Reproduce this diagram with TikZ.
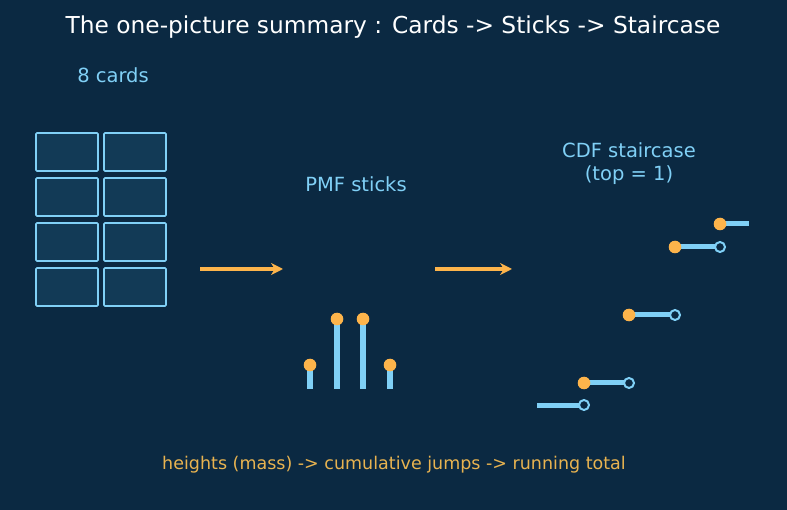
\documentclass[tikz,border=0pt]{standalone}
\usepackage{xcolor}
\usepackage{fontspec}
\setmainfont{DejaVu Sans}
\usepackage{tikz}
\usetikzlibrary{arrows.meta}
\usetikzlibrary{positioning}
\tikzset{>=stealth}

\definecolor{bgnavy}{HTML}{0B2942}
\definecolor{cardfill}{HTML}{123A56}
\definecolor{skyline}{HTML}{80D0F6}
\definecolor{jumporange}{HTML}{FDB44B}
\definecolor{notegold}{HTML}{E8B350}

\tikzset{
  card/.style={draw=skyline, fill=cardfill, line width=1.6pt, rounded corners=1pt,
    minimum width=62pt, minimum height=38pt, inner sep=0pt},
  lbl/.style={text=skyline, font=\fontsize{19.5}{23}\selectfont, align=center},
  flow/.style={-{Stealth[length=12pt,width=12pt]}, jumporange, line width=4.2pt},
  stick/.style={skyline, line width=6.5pt},
  tread/.style={skyline, line width=5pt},
  mass/.style={fill=jumporange},
  hole/.style={draw=skyline, fill=bgnavy, line width=2pt}
}

\begin{document}
\begin{tikzpicture}[x=1pt,y=-1pt]
        % Canvas
        \fill[bgnavy] (0,0) rectangle (787,510);
        \useasboundingbox (0,0) rectangle (787,510);

        % Titles and labels
        \node[text=white, font=\fontsize{23.3}{27}\selectfont] (title) at (393,27) {The one-picture summary : Cards -> Sticks -> Staircase};
        \node[lbl] (cardslbl) at (113,75) {8 cards};
        \node[lbl] (pmflbl) at (356,184) {PMF sticks};
        \node[lbl, inner sep=0pt] (cdflbl) at (629,164) {CDF staircase\\(top = 1)};
        \node[text=notegold, font=\fontsize{17.5}{21}\selectfont] (note) at (394,465) {heights (mass) -> cumulative jumps -> running total};

        % Cards
        \foreach \r/\y in {1/152,2/197,3/242,4/287}{
          \node[card] (cardL\r) at (67,\y) {};
          \node[card] (cardR\r) at (135,\y) {};
        }

        % Arrows
        \coordinate (flowAs) at (200,269);
        \coordinate (flowAe) at (283,269);
        \coordinate (flowBs) at (435,269);
        \coordinate (flowBe) at (512,269);
        \draw[flow] (flowAs) -- (flowAe);
        \draw[flow] (flowBs) -- (flowBe);

        % PMF sticks
        \foreach \i/\x/\h in {1/310/365,2/337/319,3/363/319,4/390/365}{
          \coordinate (base\i) at (\x,389);
          \coordinate (tip\i) at (\x,\h);
          \draw[stick] (base\i) -- (tip\i);
          \fill[mass] (tip\i) circle (6.3);
        }

        % CDF staircase
        \coordinate (stepL) at (537,405);
        \coordinate (step0) at (584,405);
        \draw[tread] (stepL) -- (step0);
        \foreach \i/\xa/\xb/\y in {1/584/629/383,2/629/675/315,3/675/720/247}{
          \coordinate (rise\i) at (\xa,\y);
          \coordinate (run\i) at (\xb,\y);
          \draw[tread] (rise\i) -- (run\i);
          \fill[mass] (rise\i) circle (6.3);
        }
        \coordinate (rise4) at (720,224);
        \coordinate (run4) at (749,224);
        \draw[tread] (rise4) -- (run4);
        \fill[mass] (rise4) circle (6.3);
        % open ends
        \foreach \c in {step0,run1,run2,run3}{
          \draw[hole] (\c) circle (5);
        }
\end{tikzpicture}
\end{document}
